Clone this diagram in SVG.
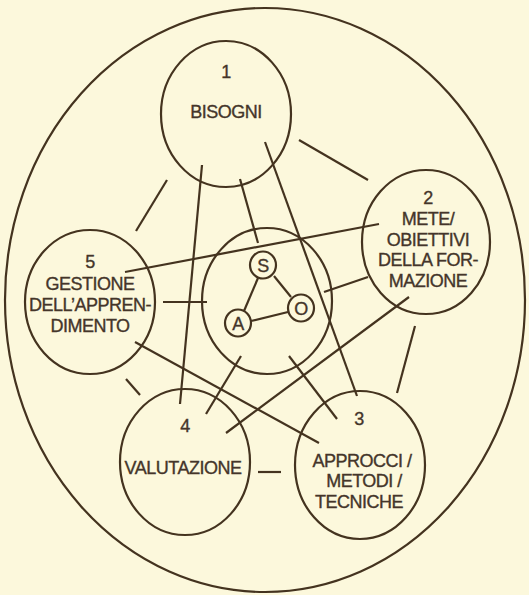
<svg xmlns="http://www.w3.org/2000/svg" width="529" height="595" viewBox="0 0 529 595">
<style>
.c{fill:none;stroke:#44331f;stroke-width:2.2}
.l{stroke:#44331f;stroke-width:2.2;fill:none}
text{font-family:"Liberation Sans",Arial,sans-serif;font-size:18px;letter-spacing:-0.5px;fill:#44352a;stroke:#44352a;stroke-width:0.35;text-anchor:middle}
</style>
<rect width="529" height="595" fill="#fcf8dc"/>
<g id="outer"><ellipse class="c" cx="265" cy="300" rx="260" ry="292"/></g>
<g id="connectors">
<line class="l" x1="299" y1="140" x2="368" y2="180"/>
<line class="l" x1="167" y1="180" x2="136" y2="231"/>
<line class="l" x1="202" y1="165" x2="180" y2="404"/>
<line class="l" x1="240" y1="179" x2="258" y2="243"/>
<line class="l" x1="265" y1="142" x2="357" y2="396"/>
<line class="l" x1="379" y1="224" x2="125" y2="272"/>
<line class="l" x1="368" y1="277" x2="324" y2="292"/>
<line class="l" x1="409" y1="297" x2="226" y2="433"/>
<line class="l" x1="415" y1="326" x2="397" y2="393"/>
<line class="l" x1="163" y1="302" x2="207" y2="302"/>
<line class="l" x1="126" y1="379" x2="140" y2="395"/>
<line class="l" x1="135" y1="342" x2="319" y2="443"/>
<line class="l" x1="241" y1="356" x2="206" y2="414"/>
<line class="l" x1="289" y1="356" x2="337" y2="419"/>
<line class="l" x1="258" y1="472" x2="281" y2="472"/>
<line class="l" x1="258" y1="278" x2="244" y2="311"/>
<line class="l" x1="274" y1="276" x2="291" y2="297"/>
<line class="l" x1="251" y1="321" x2="288" y2="312"/>
</g>
<g id="n1"><ellipse class="c" cx="226" cy="114" rx="65" ry="73"/><text x="226" y="78">1</text><text x="226" y="118">BISOGNI</text></g>
<g id="n2"><ellipse class="c" cx="426" cy="242" rx="64" ry="72"/><text x="428" y="204">2</text><text x="428" y="225">METE/</text><text x="428" y="246">OBIETTIVI</text><text x="428" y="266">DELLA FOR-</text><text x="428" y="287">MAZIONE</text></g>
<g id="n3"><ellipse class="c" cx="360" cy="465" rx="65" ry="74"/><text x="359" y="425">3</text><text x="362" y="467">APPROCCI /</text><text x="364" y="487">METODI /</text><text x="359" y="508">TECNICHE</text></g>
<g id="n4"><ellipse class="c" cx="185" cy="462" rx="65" ry="73"/><text x="185" y="432">4</text><text x="183" y="474">VALUTAZIONE</text></g>
<g id="n5"><ellipse class="c" cx="90" cy="302" rx="65" ry="72"/><text x="90" y="268">5</text><text x="90" y="290">GESTIONE</text><text x="90" y="311">DELL’APPREN-</text><text x="90" y="332">DIMENTO</text></g>
<g id="center"><ellipse class="c" cx="267" cy="301" rx="65" ry="73"/></g>
<g id="S"><ellipse class="c" cx="263" cy="265" rx="13" ry="13.5"/><text x="263" y="271.5">S</text></g>
<g id="O"><ellipse class="c" cx="301" cy="308" rx="13" ry="13.5"/><text x="301" y="314.5">O</text></g>
<g id="A"><ellipse class="c" cx="238" cy="323" rx="13" ry="13.5"/><text x="238" y="329.5">A</text></g>
</svg>
